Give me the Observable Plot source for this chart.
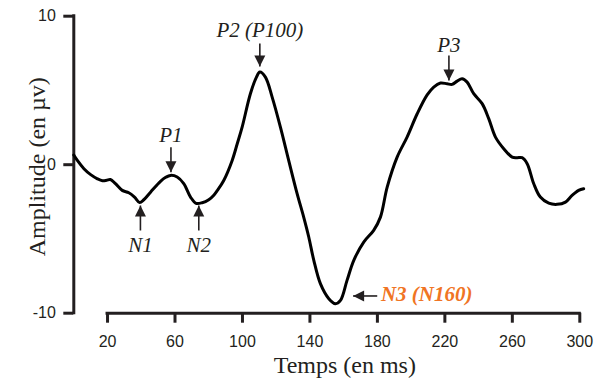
<!DOCTYPE html>
<html>
<head>
<meta charset="utf-8">
<script src="https://cdn.jsdelivr.net/npm/d3@7"></script>
<script src="https://cdn.jsdelivr.net/npm/@observablehq/plot@0.6"></script>
<style>
  body { margin: 0; background: #fff; }
  #chart svg { display: block; }
</style>
</head>
<body>
<div id="chart"></div>
<script>
// ERP waveform: time (ms) and amplitude (µV)
const times = [0, 2, 6, 10, 14, 17, 19.5, 21.7, 24.7, 28.7, 32.6, 36, 39, 41.5, 45.5, 51.4, 54.5, 57.3, 61.3, 65.2, 69.2, 72.5, 76.1, 80, 83, 85, 88.9, 93.9, 96.9, 99.8, 104.7, 108.3, 110.3, 113.6, 117.6, 122.5, 127.4, 132.4, 136.3, 139.3, 142.3, 146.2, 151.2, 155.1, 158.1, 162, 166, 171.9, 177.8, 181.8, 185.8, 191.7, 197.6, 203.6, 209.5, 213.4, 217.4, 221.3, 224.3, 227.3, 230.2, 233.2, 237.1, 242.1, 246, 250, 254.9, 259.9, 262.8, 265.8, 268.8, 272.7, 276.6, 281.6, 286.5, 291.5, 295.4, 299.3, 302.3];
const amplitudes = [0.65, 0.3, -0.27, -0.67, -0.95, -1.08, -1.05, -1.0, -1.28, -1.73, -1.89, -2.18, -2.54, -2.36, -1.85, -1.12, -0.85, -0.72, -0.83, -1.28, -2.18, -2.6, -2.56, -2.36, -2.05, -1.75, -1.06, 0.29, 1.41, 2.53, 4.78, 5.9, 6.24, 5.9, 4.55, 2.53, 0.29, -1.95, -3.53, -4.87, -6.44, -8.01, -9.02, -9.36, -9.14, -7.79, -6.44, -5.21, -4.42, -3.53, -1.51, 0.51, 1.86, 3.43, 4.7, 5.23, 5.5, 5.45, 5.41, 5.63, 5.79, 5.56, 4.78, 4.11, 3.1, 1.86, 1.08, 0.51, 0.47, 0.47, 0.07, -1.28, -2.18, -2.59, -2.67, -2.52, -2.07, -1.73, -1.62];

const xTicks = [20, 60, 100, 140, 180, 220, 260, 300];
const yTicks = [-10, 0, 10];
const xTitle = "Temps (en ms)";
const yTitle = "Amplitude (en µv)";

// Component annotations (data coordinates)
const compLabels = ["P1", "P2 (P100)", "P3", "N1", "N2", "N3 (N160)"];
const compLabelT = [57.6, 110.3, 222.4, 39.5, 74.1, 182.1];
const compLabelV = [1.52, 8.59, 7.58, -5.89, -5.89, -9.2];
const arrowTipT = [57.6, 110.3, 222.4, 39.5, 74.1, 165.6];
const arrowTipV = [-0.5, 6.61, 5.67, -2.75, -2.75, -8.84];
const arrowTailT = [57.6, 110.3, 222.4, 39.5, 74.1, 179.9];
const arrowTailV = [1.18, 8.16, 7.35, -4.43, -4.43, -8.84];
const arrowDir = ["down", "down", "down", "up", "up", "left"];

const wave = times.map((t, i) => ({t, v: amplitudes[i]}));
const ann = compLabels.map((label, i) => ({
  label,
  lt: compLabelT[i], lv: compLabelV[i],
  tipT: arrowTipT[i], tipV: arrowTipV[i],
  tailT: arrowTailT[i], tailV: arrowTailV[i],
  rot: {down: 180, up: 0, left: 270, right: 90}[arrowDir[i]]
}));
const peaks = ann.slice(0, 5);
const n3 = ann.slice(5);

const ink = "#231f20";
const orange = "#f07423";
const serif = "'Liberation Serif', 'Times New Roman', serif";
const sans = "'Liberation Sans', Arial, sans-serif";

const chart = Plot.plot({
  width: 600,
  height: 380,
  marginLeft: 73.3,
  marginRight: 20.7,
  marginTop: 15.7,
  marginBottom: 67.3,
  x: {domain: [0, 300]},
  y: {domain: [-10, 10]},
  style: {background: "#fff", color: ink, fontFamily: sans},
  marks: [
    // axis lines
    Plot.ruleX([0], {y1: -10, y2: 10, stroke: ink, strokeWidth: 3, strokeLinecap: "square"}),
    Plot.ruleY([-10], {x1: xTicks[0], x2: xTicks[xTicks.length - 1], stroke: ink, strokeWidth: 3, strokeLinecap: "square"}),
    Plot.axisX({ticks: xTicks, tickFormat: d => String(d), tickSize: 10, tickPadding: 12, strokeWidth: 3, stroke: ink, fill: ink, fontSize: 16, label: null}),
    Plot.axisY({ticks: yTicks, tickFormat: d => String(d), tickSize: 10, tickPadding: 8, strokeWidth: 3, stroke: ink, fill: ink, fontSize: 16, label: null}),
    // axis titles
    Plot.text([xTitle], {frameAnchor: "bottom", textAnchor: "middle", dx: 18, dy: 60, lineAnchor: "bottom", fontFamily: serif, fontSize: 24, fill: ink}),
    Plot.text([yTitle], {frameAnchor: "left", textAnchor: "middle", rotate: -90, dx: -29, dy: 2, lineAnchor: "bottom", fontFamily: serif, fontSize: 24, fill: ink}),
    // waveform
    Plot.line(wave, {x: "t", y: "v", stroke: "#000", strokeWidth: 3, curve: "catmull-rom"}),
    // arrows
    Plot.link(ann, {x1: "tailT", y1: "tailV", x2: "tipT", y2: "tipV", stroke: ink, strokeWidth: 1.6}),
    Plot.vector(ann, {x: "tipT", y: "tipV", rotate: "rot", length: 11, r: 5.5, shape: "spike", anchor: "end", fill: ink, stroke: "none"}),
    // labels
    Plot.text(peaks, {x: "lt", y: "lv", text: "label", lineAnchor: "bottom", fontFamily: serif, fontStyle: "italic", fontSize: 21, fill: ink}),
    Plot.text(n3, {x: "lt", y: "lv", text: "label", textAnchor: "start", lineAnchor: "bottom", fontFamily: serif, fontStyle: "italic", fontWeight: "bold", fontSize: 21, fill: orange})
  ]
});
document.getElementById("chart").append(chart);
</script>
</body>
</html>
